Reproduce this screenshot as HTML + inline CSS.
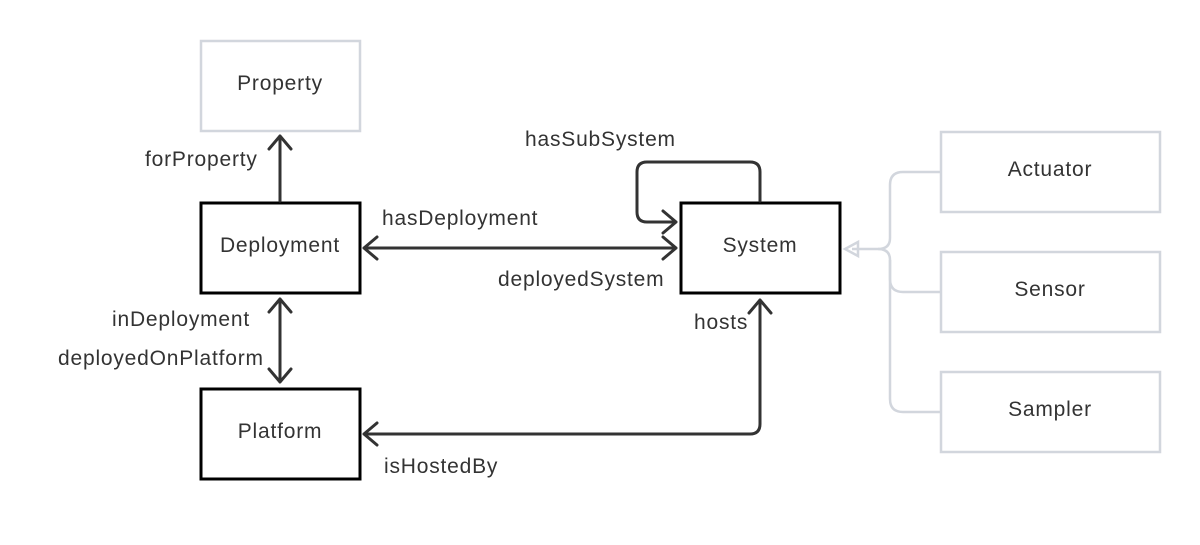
<!DOCTYPE html>
<html><head><style>
body{margin:0;background:#fff;}
svg text{font-family:"Liberation Sans",Arial,sans-serif;font-size:21px;letter-spacing:0.8px;fill:#333;}
</style></head><body>
<svg width="1200" height="540" viewBox="0 0 1200 540" xmlns="http://www.w3.org/2000/svg">
<rect width="1200" height="540" fill="#fff"/>
<g fill="none" stroke="#d2d6dd" stroke-width="2.5">
<rect x="201" y="41" width="159" height="90"/>
<rect x="941" y="132" width="219" height="80"/>
<rect x="941" y="252" width="219" height="80"/>
<rect x="941" y="372" width="219" height="80"/>
<path d="M941 172 H903 Q890 172 890 185 V238 Q890 249 878 249 H852"/>
<path d="M941 292 H903 Q890 292 890 279 V260 Q890 249 878 249"/>
<path d="M941 412 H903 Q890 412 890 399 V260"/>
<path d="M858 242 L845 249 L858 256 Z"/>
</g>
<g fill="none" stroke="#000" stroke-width="3">
<rect x="201" y="203" width="159" height="90"/>
<rect x="201" y="389" width="159" height="90"/>
<rect x="681" y="203" width="159" height="90"/>
</g>
<g fill="none" stroke="#333" stroke-width="3" stroke-linecap="round" stroke-linejoin="round">
<path d="M280 201 V136 M269 149 L280 136 L291 149"/>
<path d="M364 248 H676 M377 237 L364 248 L377 259 M663 237 L676 248 L663 259"/>
<path d="M280 299 V382 M269 312 L280 299 L291 312 M269 369 L280 382 L291 369"/>
<path d="M760 201 V172 Q760 162 750 162 H647 Q637 162 637 172 V212 Q637 222 647 222 H676 M663 211 L676 222 L663 233"/>
<path d="M364 434 H750 Q760 434 760 424 V300 M749 313 L760 300 L771 313 M377 423 L364 434 L377 445"/>
</g>
<text x="280" y="90" text-anchor="middle">Property</text>
<text x="280" y="252" text-anchor="middle">Deployment</text>
<text x="280" y="438" text-anchor="middle">Platform</text>
<text x="760" y="252" text-anchor="middle">System</text>
<text x="1050" y="176" text-anchor="middle">Actuator</text>
<text x="1050" y="296" text-anchor="middle">Sensor</text>
<text x="1050" y="416" text-anchor="middle">Sampler</text>
<text x="145" y="166">forProperty</text>
<text x="382" y="225">hasDeployment</text>
<text x="498" y="286">deployedSystem</text>
<text x="525" y="146">hasSubSystem</text>
<text x="112" y="326">inDeployment</text>
<text x="58" y="365">deployedOnPlatform</text>
<text x="694" y="329">hosts</text>
<text x="384" y="473">isHostedBy</text>
</svg>
</body></html>
